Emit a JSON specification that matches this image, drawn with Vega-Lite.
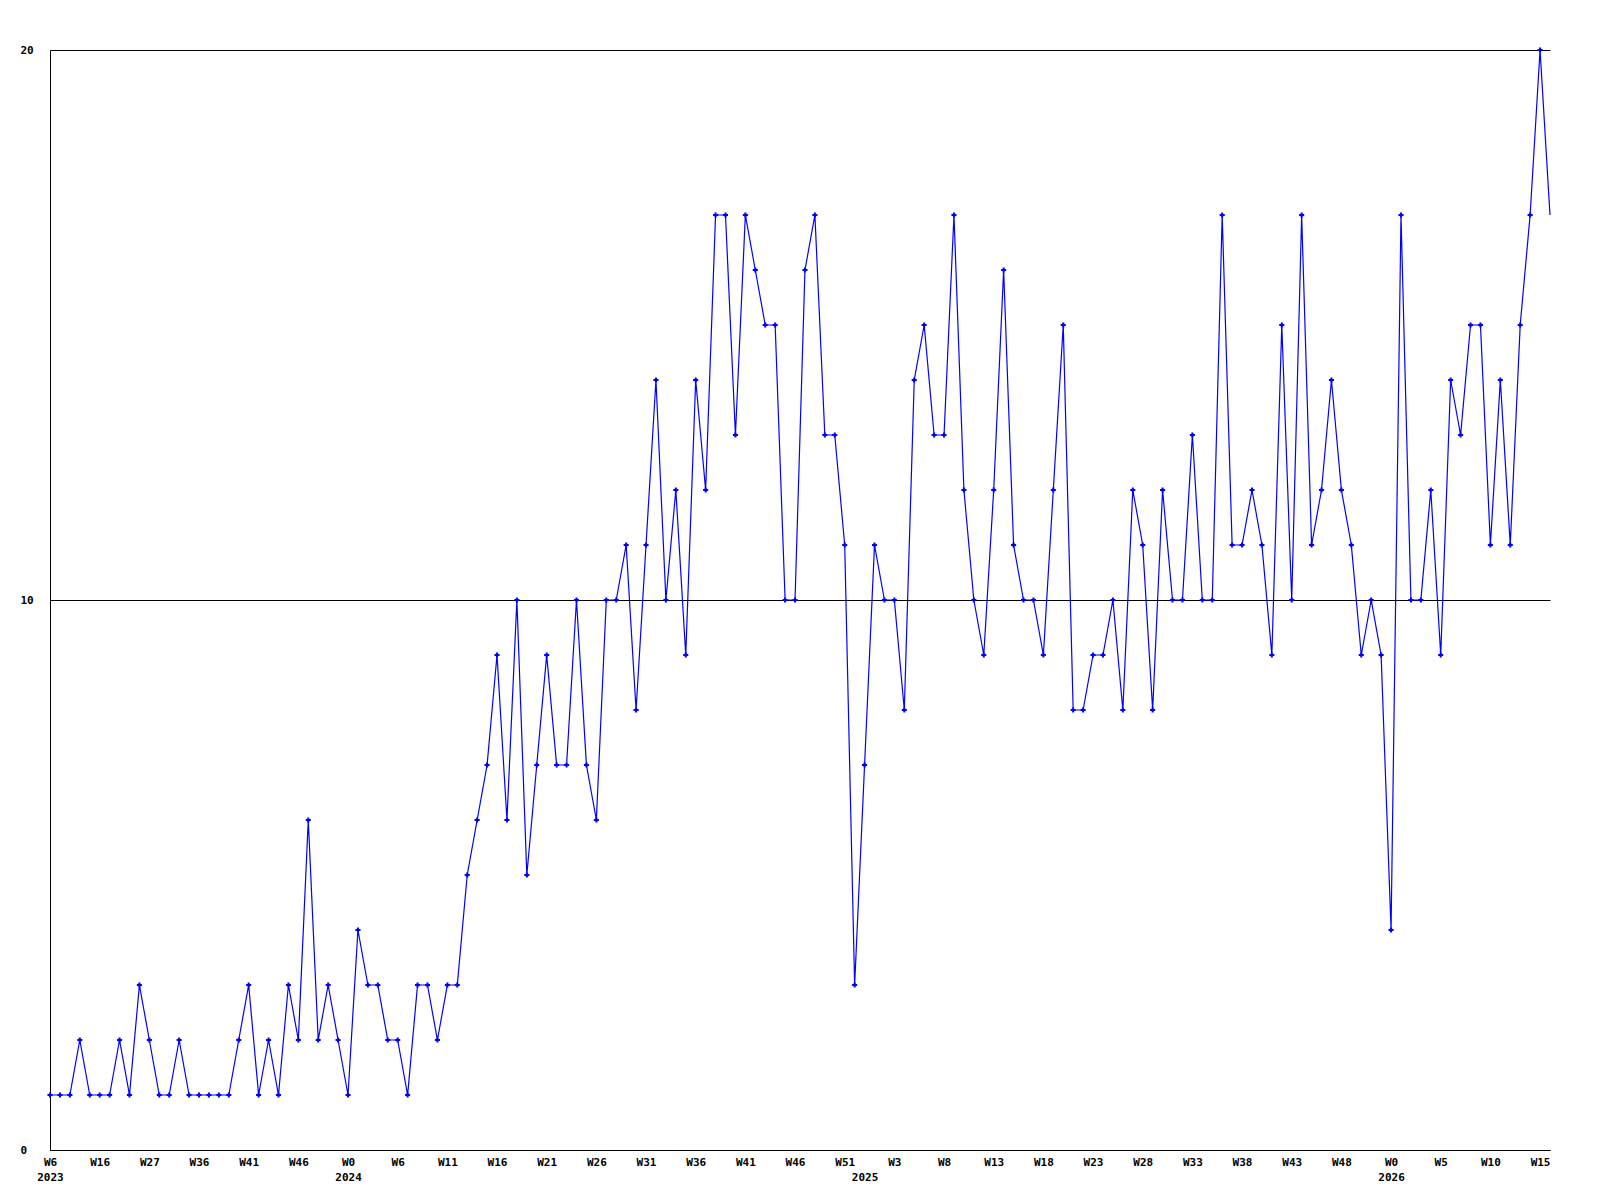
{
  "$schema": "https://vega.github.io/schema/vega-lite/v6.json",
  "width": 1500,
  "height": 1100,
  "autosize": "none",
  "padding": {"left": 50, "top": 50, "right": 50, "bottom": 50},
  "background": "white",
  "config": {"view": {"stroke": null}},
  "data": {"values": [
    {"i":0,"count":1},{"i":1,"count":1},{"i":2,"count":1},{"i":3,"count":2},{"i":4,"count":1},{"i":5,"count":1},{"i":6,"count":1},{"i":7,"count":2},{"i":8,"count":1},{"i":9,"count":3},
    {"i":10,"count":2},{"i":11,"count":1},{"i":12,"count":1},{"i":13,"count":2},{"i":14,"count":1},{"i":15,"count":1},{"i":16,"count":1},{"i":17,"count":1},{"i":18,"count":1},{"i":19,"count":2},
    {"i":20,"count":3},{"i":21,"count":1},{"i":22,"count":2},{"i":23,"count":1},{"i":24,"count":3},{"i":25,"count":2},{"i":26,"count":6},{"i":27,"count":2},{"i":28,"count":3},{"i":29,"count":2},
    {"i":30,"count":1},{"i":31,"count":4},{"i":32,"count":3},{"i":33,"count":3},{"i":34,"count":2},{"i":35,"count":2},{"i":36,"count":1},{"i":37,"count":3},{"i":38,"count":3},{"i":39,"count":2},
    {"i":40,"count":3},{"i":41,"count":3},{"i":42,"count":5},{"i":43,"count":6},{"i":44,"count":7},{"i":45,"count":9},{"i":46,"count":6},{"i":47,"count":10},{"i":48,"count":5},{"i":49,"count":7},
    {"i":50,"count":9},{"i":51,"count":7},{"i":52,"count":7},{"i":53,"count":10},{"i":54,"count":7},{"i":55,"count":6},{"i":56,"count":10},{"i":57,"count":10},{"i":58,"count":11},{"i":59,"count":8},
    {"i":60,"count":11},{"i":61,"count":14},{"i":62,"count":10},{"i":63,"count":12},{"i":64,"count":9},{"i":65,"count":14},{"i":66,"count":12},{"i":67,"count":17},{"i":68,"count":17},{"i":69,"count":13},
    {"i":70,"count":17},{"i":71,"count":16},{"i":72,"count":15},{"i":73,"count":15},{"i":74,"count":10},{"i":75,"count":10},{"i":76,"count":16},{"i":77,"count":17},{"i":78,"count":13},{"i":79,"count":13},
    {"i":80,"count":11},{"i":81,"count":3},{"i":82,"count":7},{"i":83,"count":11},{"i":84,"count":10},{"i":85,"count":10},{"i":86,"count":8},{"i":87,"count":14},{"i":88,"count":15},{"i":89,"count":13},
    {"i":90,"count":13},{"i":91,"count":17},{"i":92,"count":12},{"i":93,"count":10},{"i":94,"count":9},{"i":95,"count":12},{"i":96,"count":16},{"i":97,"count":11},{"i":98,"count":10},{"i":99,"count":10},
    {"i":100,"count":9},{"i":101,"count":12},{"i":102,"count":15},{"i":103,"count":8},{"i":104,"count":8},{"i":105,"count":9},{"i":106,"count":9},{"i":107,"count":10},{"i":108,"count":8},{"i":109,"count":12},
    {"i":110,"count":11},{"i":111,"count":8},{"i":112,"count":12},{"i":113,"count":10},{"i":114,"count":10},{"i":115,"count":13},{"i":116,"count":10},{"i":117,"count":10},{"i":118,"count":17},{"i":119,"count":11},
    {"i":120,"count":11},{"i":121,"count":12},{"i":122,"count":11},{"i":123,"count":9},{"i":124,"count":15},{"i":125,"count":10},{"i":126,"count":17},{"i":127,"count":11},{"i":128,"count":12},{"i":129,"count":14},
    {"i":130,"count":12},{"i":131,"count":11},{"i":132,"count":9},{"i":133,"count":10},{"i":134,"count":9},{"i":135,"count":4},{"i":136,"count":17},{"i":137,"count":10},{"i":138,"count":10},{"i":139,"count":12},
    {"i":140,"count":9},{"i":141,"count":14},{"i":142,"count":13},{"i":143,"count":15},{"i":144,"count":15},{"i":145,"count":11},{"i":146,"count":14},{"i":147,"count":11},{"i":148,"count":15},{"i":149,"count":17},
    {"i":150,"count":20},{"i":151,"count":17}
  ]},
  "encoding": {
    "x": {
      "field": "i", "type": "quantitative",
      "scale": {"domain": [0, 151], "nice": false, "zero": false},
      "axis": {
        "title": null, "grid": false, "ticks": false, "tickSize": 0,
        "domainColor": "black", "domainWidth": 1,
        "values": [0,5,10,15,20,25,30,35,40,45,50,55,60,65,70,75,80,82,85,90,95,100,105,110,115,120,125,130,135,140,145,150],
        "labelExpr": "datum.value == 82 ? [' ', '2025'] : datum.value == 0 ? ['W6', '2023'] : datum.value == 30 ? ['W0', '2024'] : datum.value == 135 ? ['W0', '2026'] : ['W6','W16','W27','W36','W41','W46','W0','W6','W11','W16','W21','W26','W31','W36','W41','W46','W51','W3','W8','W13','W18','W23','W28','W33','W38','W43','W48','W0','W5','W10','W15'][datum.value / 5]",
        "labelOverlap": false, "labelFlush": false,
        "labelFont": "DejaVu Sans Mono", "labelFontWeight": "bold", "labelFontSize": 11,
        "labelColor": "black", "labelPadding": 6, "labelLineHeight": 15,
        "labelBaseline": "top"
      }
    },
    "y": {
      "field": "count", "type": "quantitative",
      "scale": {"domain": [0, 20], "nice": false},
      "axis": {
        "title": null, "values": [0, 10, 20], "grid": true, "gridColor": "black", "gridOpacity": 1, "gridWidth": 1,
        "ticks": false, "tickSize": 0, "domainColor": "black", "domainWidth": 1,
        "labelFont": "DejaVu Sans Mono", "labelFontWeight": "bold", "labelFontSize": 11,
        "labelColor": "black", "labelAlign": "left", "labelPadding": 30, "labelBaseline": "middle"
      }
    }
  },
  "layer": [
    {"mark": {"type": "line", "color": "#0000ff", "strokeWidth": 1.2, "interpolate": "linear"}},
    {"transform": [{"filter": "datum.i < 151"}],
     "mark": {"type": "point", "shape": "cross", "filled": true, "color": "#0000ff", "size": 26, "opacity": 1}}
  ]
}
